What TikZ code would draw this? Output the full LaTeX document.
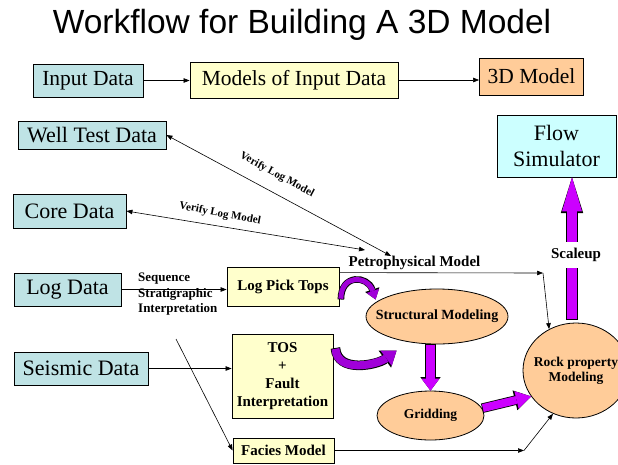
\documentclass[tikz,border=0pt]{standalone}
\usepackage{fontspec}
\setmainfont{Liberation Serif}
\newfontfamily\titlefont{Liberation Sans}
\usetikzlibrary{arrows.meta,calc,shapes.geometric}
\definecolor{boxblue}{HTML}{BFE3E5}
\definecolor{boxyel}{HTML}{FFFFCC}
\definecolor{boxorange}{HTML}{FFCC99}
\definecolor{boxcyan}{HTML}{CCFFFF}
\definecolor{fatviolet}{HTML}{CC00FF}
\definecolor{curveviolet}{HTML}{A000D8}
\begin{document}
\begin{tikzpicture}[x=1pt,y=-1pt,
  box/.style={draw, line width=0.8pt, inner sep=0pt, align=center},
  bigtxt/.style={font=\fontsize{22}{26}\selectfont},
  smalltxt/.style={font=\bfseries\fontsize{15}{18}\selectfont},
  bluebox/.style={box, bigtxt, fill=boxblue},
  yelbox/.style={box, fill=boxyel},
  orangeell/.style={ellipse, draw, line width=0.8pt, inner sep=0pt, fill=boxorange},
  elltxt/.style={inner sep=0pt, align=center},
  conn/.style={line width=0.6pt, -{Triangle[length=6pt,width=4.5pt]}},
  dconn/.style={line width=0.6pt, {Triangle[length=6pt,width=4.5pt]}-{Triangle[length=6pt,width=4.5pt]}},
  vlabel/.style={font=\bfseries\fontsize{11}{13}\selectfont, inner sep=0pt},
  lab/.style={font=\bfseries\fontsize{15}{18}\selectfont, inner sep=0pt}
]
\useasboundingbox (0,0) rectangle (618,464);

% title
\node[font=\titlefont\fontsize{33.5}{40}\selectfont, inner sep=0pt] (title) at (302,25) {Workflow for Building A 3D Model};

% top row
\node[bluebox, font=\fontsize{21.5}{25}\selectfont, minimum width=110pt, minimum height=33pt] (inp) at (88,80.5) {Input Data};
\node[yelbox, font=\fontsize{21.5}{25}\selectfont, minimum width=208pt, minimum height=36pt] (mid) at (294,80) {Models of Input Data};
\node[box, fill=boxorange, font=\fontsize{21.5}{25}\selectfont, minimum width=104pt, minimum height=37pt] (d3) at (531.5,76.5) {3D Model};
\draw[conn] (inp.east) -- (inp.east -| mid.west);
\draw[conn] (mid.east) -- (mid.east -| d3.west);

% data boxes
\node[bluebox, minimum width=148pt, minimum height=28pt] (wt) at (92,135) {Well Test Data};
\node[bluebox, minimum width=113pt, minimum height=34pt] (cd) at (69.5,211) {Core Data};
\node[bluebox, minimum width=107pt, minimum height=33pt] (ld) at (67.5,289.5) {Log Data};
\node[bluebox, minimum width=134pt, minimum height=33pt] (sd) at (81,368.5) {Seismic Data};
\node[box, bigtxt, fill=boxcyan, minimum width=119pt, minimum height=62pt] (fs) at (556.5,146) {Flow\\Simulator};

% model boxes
\node[yelbox, smalltxt, minimum width=112pt, minimum height=39pt] (lpt) at (283,286.5) {Log Pick Tops};
\node[yelbox, smalltxt, minimum width=101pt, minimum height=84pt] (tos) at (282.5,376) {TOS\\+\\Fault\\Interpretation};
\node[yelbox, smalltxt, minimum width=101pt, minimum height=25pt] (fm) at (283.5,450.5) {Facies Model};

% ellipses
\node[orangeell, minimum width=142pt, minimum height=55pt] (sm) at (437,316.5) {};
\node[elltxt, font=\bfseries\fontsize{14}{16}\selectfont] (smt) at (sm.center) {Structural Modeling};
\node[orangeell, minimum width=107pt, minimum height=49pt] (gr) at (430.5,415.5) {};
\node[elltxt, font=\bfseries\fontsize{13.5}{16}\selectfont] (grt) at (gr.center) {Gridding};
\node[orangeell, minimum width=106pt, minimum height=95pt] (rp) at (576,370.5) {};
\node[elltxt, font=\bfseries\fontsize{13.5}{15}\selectfont] (rpt) at (rp.center) {Rock property\\Modeling};

% text labels
\node[font=\bfseries\fontsize{13}{15.5}\selectfont, align=left, inner sep=0pt, anchor=west] (seq) at (138,294.5) {Sequence\\Stratigraphic\\Interpretation};
\node[lab] (petro) at (414.5,262.5) {Petrophysical Model};
\node[vlabel, rotate=-28.5] (vl1) at (277,175) {Verify Log Model};
\node[vlabel, rotate=-11] (vl2) at (220,214) {Verify Log Model};

% thin connectors
\coordinate (vw) at (391,256);
\coordinate (vc) at (365,250);
\draw[dconn] (wt.east) -- (vw);
\draw[dconn] (cd.east) -- (vc);
\draw[conn] (ld.east) -- (ld.east -| lpt.west);
\draw[conn] (sd.east) -- (sd.east -| tos.west);
\coordinate (dg) at (176,339);
\draw[conn] (dg) -- (fm.west);
\coordinate (ppc) at (543,273);
\draw[conn] ([yshift=-6pt]lpt.north east) -- (ppc);
\draw[conn] (ppc) -- (rp.123);
\coordinate (fcc) at (524,450.5);
\draw[conn] (fm.east) -- (fcc);
\draw[conn] (fcc) -- (rp.242);

% fat arrows: structural -> gridding
\draw[black, line width=10.6pt, -{Triangle[length=13.6pt, width=20.4pt, line width=0pt]}] (sm.south -| gr.north) -- (gr.north);
\draw[fatviolet, line width=9pt, -{Triangle[length=12pt, width=18pt, line width=0pt]}, shorten <=0.8pt] (sm.south -| gr.north) -- (gr.north);
% gridding -> rock
\draw[black, line width=9.6pt, -{Triangle[length=16.6pt, width=20.4pt, line width=0pt]}] (gr.8) -- (rp.210);
\draw[fatviolet, line width=8pt, -{Triangle[length=15pt, width=18pt, line width=0pt]}, shorten <=0.8pt] (gr.8) -- (rp.210);
% scaleup
\draw[black, line width=11.6pt, -{Triangle[length=35.6pt, width=22.4pt, line width=0pt]}] ([xshift=-4pt,yshift=3pt]rp.north) -- ([xshift=-4pt]rp.north |- fs.south);
\draw[fatviolet, line width=10pt, -{Triangle[length=34pt, width=20pt, line width=0pt]}, shorten <=0.8pt] ([xshift=-4pt,yshift=3pt]rp.north) -- ([xshift=-4pt]rp.north |- fs.south);
\node[lab, fill=white, inner xsep=2pt, inner ysep=6pt] (scl) at (576,255) {Scaleup};

% curved arrows
\coordinate (c1s) at ($(lpt.east)+(1.5,13)$);
\coordinate (c1e) at ($(sm.west)+(10,-17)$);
\draw[black, line width=6.6pt, -{Triangle[length=10.4pt, width=15pt, line width=0pt]}] (c1s) .. controls +(0,-26) and +(-8,-24) .. (c1e);
\draw[curveviolet, line width=5pt, -{Triangle[length=9pt, width=13pt, line width=0pt]}, shorten <=0.8pt] (c1s) .. controls +(0,-26) and +(-8,-24) .. (c1e);
\coordinate (c2s) at ($(tos.east)+(2,-28)$);
\coordinate (c2e) at ($(sm.west)+(31,34)$);
\draw[black, line width=9.6pt, -{Triangle[length=14.6pt, width=21pt, line width=0pt]}] (c2s) .. controls +(2,26) and +(-19,14) .. (c2e);
\draw[curveviolet, line width=8pt, -{Triangle[length=13pt, width=19pt, line width=0pt]}, shorten <=0.8pt] (c2s) .. controls +(2,26) and +(-19,14) .. (c2e);
\end{tikzpicture}
\end{document}
